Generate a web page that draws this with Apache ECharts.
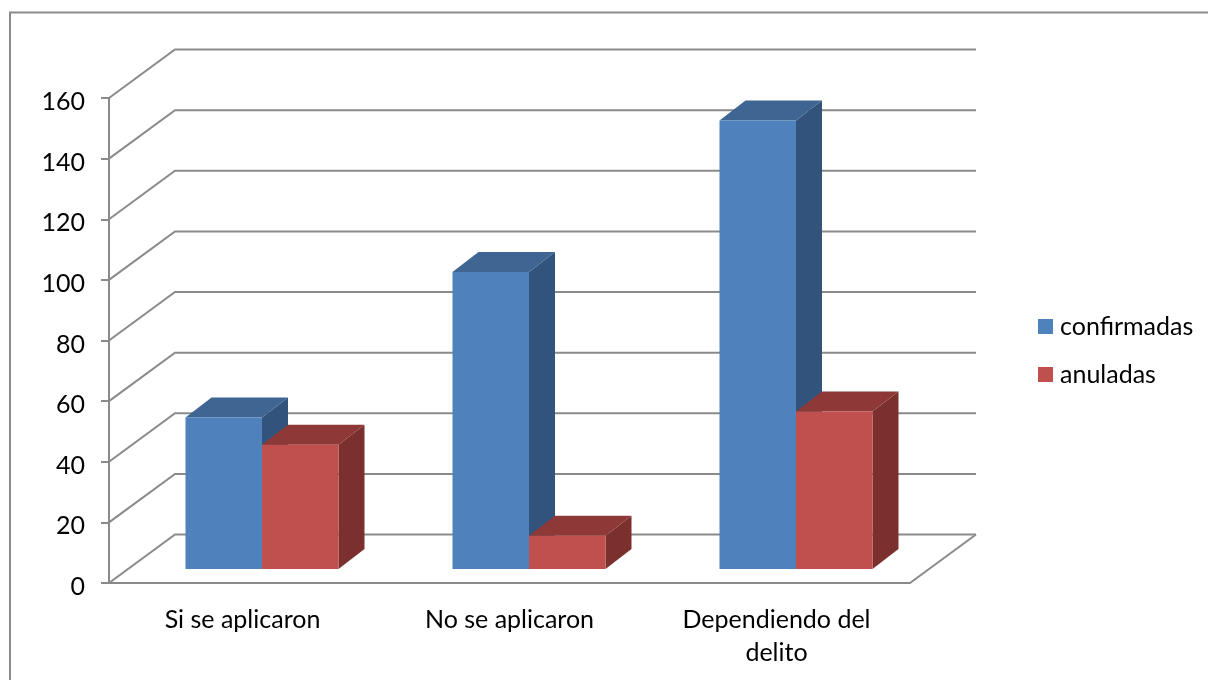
<!DOCTYPE html>
<html>
<head>
<meta charset="utf-8">
<style>
html, body { margin: 0; padding: 0; background: #fff; }
#chart { width: 1208px; height: 680px; }
</style>
<script src="https://cdn.jsdelivr.net/npm/echarts@6/dist/echarts.min.js"></script>
</head>
<body>
<div id="chart"></div>
<script>
var categories = ['Si se aplicaron', 'No se aplicaron', 'Dependiendo del\ndelito'];
var confirmadas = [50, 98, 148];
var anuladas = [41, 11, 52];
var gridTicks = [0, 20, 40, 60, 80, 100, 120, 140, 160];

var lineColor = '#8a8a8a';
var fontName = 'Lato';

// desplazamiento de la pared del fondo y de las barras
var wallDx = 66, wallDy = -48.5;
var barDx = 19.5, barDy = -14;
var depthX = 26, depthY = -20;

var chart = echarts.init(document.getElementById('chart'));

function renderWall(params, api) {
    var rect = params.coordSys;
    var y = api.coord([0, api.value(0)])[1];
    var x0 = rect.x, x1 = rect.x + rect.width;
    return {
        type: 'polyline',
        shape: {
            points: [[x0, y], [x0 + wallDx, y + wallDy], [x1 + wallDx, y + wallDy]]
        },
        style: { fill: null, stroke: lineColor, lineWidth: 2 }
    };
}

function renderFloorEdge(params, api) {
    var rect = params.coordSys;
    var x1 = rect.x + rect.width, y1 = rect.y + rect.height;
    return {
        type: 'line',
        shape: { x1: x1, y1: y1, x2: x1 + wallDx, y2: y1 + wallDy },
        style: { stroke: lineColor, lineWidth: 2 }
    };
}

function makeBar(index, front, top, side) {
    return function (params, api) {
        var p = api.coord([api.value(0), api.value(1)]);
        var base = api.coord([api.value(0), 0]);
        var band = api.size([1, 0])[0];
        var w = band * 0.2865;
        var x0 = p[0] + barDx - w + index * w;
        var x1 = x0 + w;
        var yTop = p[1] + barDy;
        var yBot = base[1] + barDy;
        return {
            type: 'group',
            children: [
                {
                    type: 'polygon',
                    shape: { points: [[x1, yTop], [x1 + depthX, yTop + depthY], [x1 + depthX, yBot + depthY], [x1, yBot]] },
                    style: { fill: side }
                },
                {
                    type: 'polygon',
                    shape: { points: [[x0, yTop], [x0 + depthX, yTop + depthY], [x1 + depthX, yTop + depthY], [x1, yTop]] },
                    style: { fill: top }
                },
                {
                    type: 'rect',
                    shape: { x: x0, y: yTop, width: w, height: yBot - yTop },
                    style: { fill: front }
                }
            ]
        };
    };
}

function pairs(values) {
    return values.map(function (v, i) { return [i, v]; });
}

var option = {
    animation: false,
    backgroundColor: '#fff',
    textStyle: { fontFamily: fontName },
    grid: { left: 109, top: 98, width: 801, height: 485, containLabel: false },
    graphic: [{
        type: 'polyline',
        shape: { points: [[10, 680], [10, 12.5], [1208, 12.5]] },
        style: { fill: null, stroke: lineColor, lineWidth: 2 },
        silent: true
    }],
    legend: {
        orient: 'vertical',
        left: 1033,
        top: 309,
        itemWidth: 15,
        itemHeight: 15,
        itemGap: 23,
        icon: 'rect',
        data: ['confirmadas', 'anuladas'],
        textStyle: { fontFamily: fontName, fontSize: 25, color: '#000', padding: [0, 0, 0, 2] }
    },
    xAxis: {
        type: 'category',
        data: categories,
        axisLine: { lineStyle: { color: lineColor, width: 2 } },
        axisTick: { length: 9, lineStyle: { color: lineColor, width: 2 } },
        axisLabel: { color: '#000', fontFamily: fontName, fontSize: 25, margin: 20, lineHeight: 33, interval: 0 }
    },
    yAxis: {
        type: 'value',
        min: 0,
        max: 160,
        interval: 20,
        axisLine: { show: true, lineStyle: { color: lineColor, width: 2 } },
        axisTick: { show: true, length: 8, lineStyle: { color: lineColor, width: 2 } },
        axisLabel: { color: '#000', fontFamily: fontName, fontSize: 25, margin: 24, verticalAlign: 'top', lineHeight: 8 },
        splitLine: { show: false }
    },
    series: [
        {
            type: 'custom', name: 'paredes', silent: true, z: 1,
            coordinateSystem: 'cartesian2d',
            renderItem: renderWall,
            encode: { y: 0 },
            data: gridTicks.map(function (t) { return [t]; })
        },
        {
            type: 'custom', name: 'suelo', silent: true, z: 1,
            coordinateSystem: 'cartesian2d',
            renderItem: renderFloorEdge,
            encode: { y: 0 },
            data: [[0]]
        },
        {
            type: 'custom', name: 'confirmadas', z: 3,
            itemStyle: { color: '#4F81BD' },
            renderItem: makeBar(0, '#4F81BD', '#3F6592', '#32547C'),
            encode: { x: 0, y: 1 },
            data: pairs(confirmadas)
        },
        {
            type: 'custom', name: 'anuladas', z: 4,
            itemStyle: { color: '#C0504D' },
            renderItem: makeBar(1, '#C0504D', '#8E3937', '#7B302E'),
            encode: { x: 0, y: 1 },
            data: pairs(anuladas)
        }
    ]
};

chart.setOption(option);
</script>
</body>
</html>
